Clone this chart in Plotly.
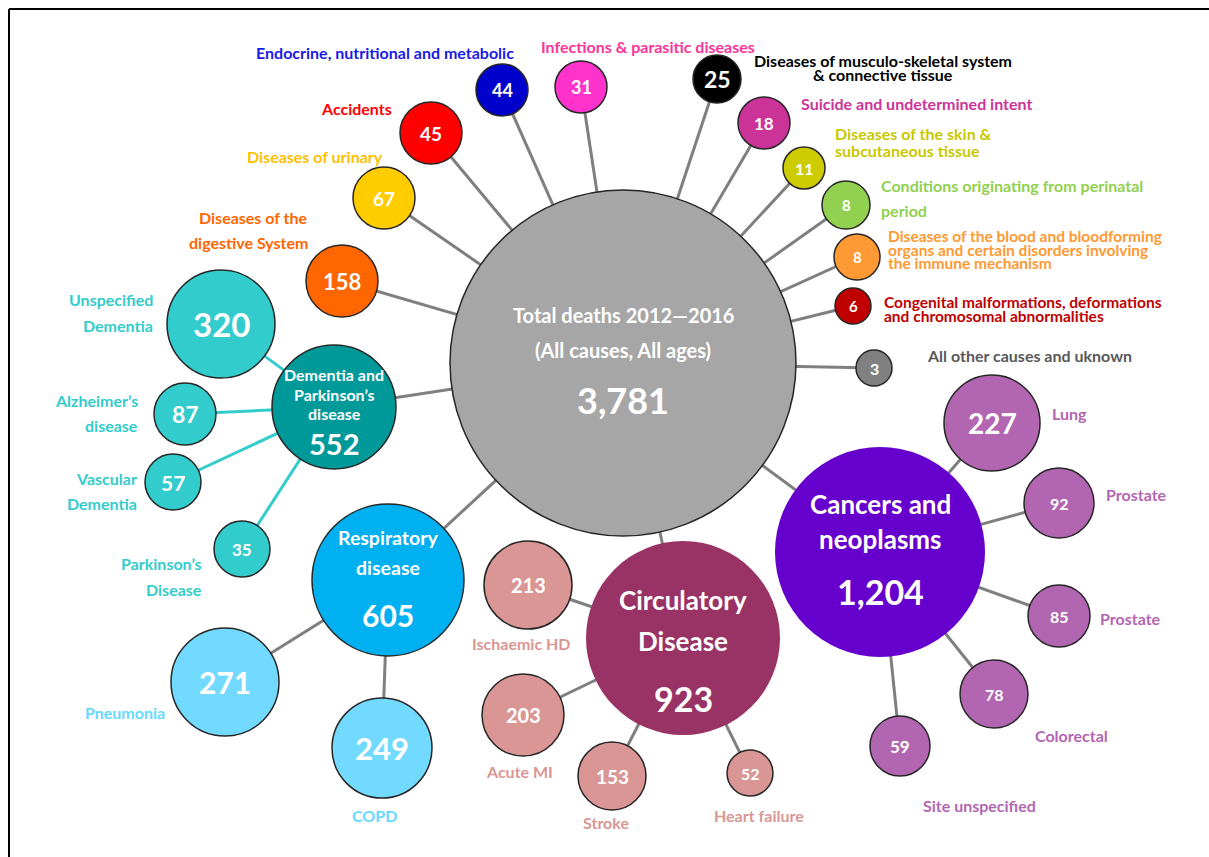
import plotly.graph_objects as go

# ---- data -------------------------------------------------------------
names = [
    "Total deaths 2012—2016<br>(All causes, All ages)",
    "Endocrine, nutritional and metabolic",
    "Infections & parasitic diseases",
    "Diseases of musculo-skeletal system<br>& connective tissue",
    "Suicide and undetermined intent",
    "Diseases of the skin &<br>subcutaneous tissue",
    "Conditions originating from perinatal<br>period",
    "Diseases of the blood and bloodforming<br>organs and certain disorders involving<br>the immune mechanism",
    "Congenital malformations, deformations<br>and chromosomal abnormalities",
    "All other causes and uknown",
    "Accidents",
    "Diseases of urinary",
    "Diseases of the<br>digestive System",
    "Dementia and<br>Parkinson’s<br>disease",
    "Unspecified<br>Dementia",
    "Alzheimer’s<br>disease",
    "Vascular<br>Dementia",
    "Parkinson’s<br>Disease",
    "Respiratory<br>disease",
    "Pneumonia",
    "COPD",
    "Circulatory<br>Disease",
    "Ischaemic HD",
    "Acute MI",
    "Stroke",
    "Heart failure",
    "Cancers and<br>neoplasms",
    "Lung",
    "Prostate",
    "Prostate",
    "Colorectal",
    "Site unspecified",
]
deaths = [3781, 44, 31, 25, 18, 11, 8, 8, 6, 3, 45, 67, 158,
          552, 320, 87, 57, 35,
          605, 271, 249,
          923, 213, 203, 153, 52,
          1204, 227, 92, 85, 78, 59]
parent = [None, 0, 0, 0, 0, 0, 0, 0, 0, 0, 0, 0, 0,
          0, 13, 13, 13, 13,
          0, 18, 18,
          0, 21, 21, 21, 21,
          0, 26, 26, 26, 26, 26]

# ---- layout of the bubbles (pixel space) ------------------------------
cx = [623, 502, 581, 717, 764, 804, 846, 857, 853, 874, 431, 384, 342,
      334, 221, 185, 173, 242,
      388, 225, 382,
      683, 528, 523, 612, 750,
      880, 992, 1059, 1059, 994, 900]
cy = [363, 90, 87, 79, 123, 168, 205, 257, 306, 368, 133, 198, 281,
      407, 324, 414, 482, 549,
      580, 682, 748,
      638, 585, 715, 776, 773,
      552, 423, 503, 616, 694, 746]
rad = [173, 26, 26, 24, 26, 21, 24, 23, 18, 18, 31, 31, 36,
       62, 54, 31, 28, 28,
       76, 54, 50,
       97, 44, 41, 34, 23,
       105, 48, 35, 31, 34, 30]

TEAL, LBLUE, ROSE, MAUVE = "#33CCCC", "#73DAFF", "#D99694", "#B266B2"
fill = ["#A6A6A6", "#0000CC", "#FF33CC", "#000000", "#CC3399", "#CCCC00",
        "#92D050", "#FF9933", "#C00000", "#808080", "#FF0000", "#FFCC00",
        "#FF6600",
        "#009999", TEAL, TEAL, TEAL, TEAL,
        "#00B0F0", LBLUE, LBLUE,
        "#993366", ROSE, ROSE, ROSE, ROSE,
        "#6600CC", MAUVE, MAUVE, MAUVE, MAUVE, MAUVE]
label_col = [None, "#1A1AE6", "#FF3399", "#000000", "#CC3399", "#C8C800",
             "#92D050", "#FF9933", "#C00000", "#595959", "#FF0000", "#FFC000",
             "#FF6600",
             None, TEAL, TEAL, TEAL, TEAL,
             None, "#66D9FF", "#66D9FF",
             None, ROSE, ROSE, ROSE, ROSE,
             None, MAUVE, MAUVE, MAUVE, MAUVE, MAUVE]
border = [0 if i in (21, 26) else 1.5 for i in range(len(names))]
num_size = [36, 18, 18, 23, 17, 16, 15, 15, 15, 16, 19, 19, 22,
            29, 33, 23, 21, 17,
            30, 30, 31,
            34, 20, 20, 19, 16,
            34, 28, 16, 16, 16, 17]

# outside labels: node -> (x, first line y, anchor, line step, font size)
label_pos = {
    1: (385, 52, "center", 0, 16), 2: (648, 46, "center", 0, 16),
    3: (883, 60, "center", 14, 16), 4: (916, 103, "center", 0, 16),
    5: (833, 133, "left", 17, 16), 6: (879, 185, "left", 25, 16),
    7: (886, 236, "left", 13.5, 15.5), 8: (882, 302, "left", 13.5, 15.5),
    9: (925, 355, "left", 0, 16), 10: (356, 108, "center", 0, 16),
    11: (315, 156, "center", 0, 16), 12: (310, 217, "right", 25, 16),
    14: (155, 299, "right", 26, 16), 15: (140, 400, "right", 25, 16),
    16: (139, 478, "right", 25, 16), 17: (204, 563, "right", 26, 16),
    19: (167, 712, "right", 0, 16), 20: (374, 815, "center", 0, 16),
    22: (521, 643, "center", 0, 16), 23: (519, 771, "center", 0, 16),
    24: (606, 822, "center", 0, 16), 25: (759, 815, "center", 0, 16),
    27: (1050, 413, "left", 0, 16), 28: (1104, 494, "left", 0, 16),
    29: (1098, 618, "left", 0, 16), 30: (1033, 735, "left", 0, 16),
    31: (921, 805, "left", 0, 16),
}
# text inside the hub bubbles: node -> (line ys, line size, value y)
hub_text = {
    0: ([315, 350], 20, 400),
    13: ([374, 394, 413], 16, 443),
    18: ([537, 567], 19.5, 615),
    21: ([600, 641], 26, 698),
    26: ([504, 539], 26, 591),
}

FONT = "Lato, 'Open Sans', sans-serif"
W, H = 1209, 857

fig = go.Figure()

# connectors
for i, p in enumerate(parent):
    if p is None:
        continue
    col = TEAL if p == 13 else "#7F7F7F"
    fig.add_trace(go.Scatter(
        x=[cx[i], cx[p]], y=[cy[i], cy[p]], mode="lines",
        line=dict(color=col, width=3), hoverinfo="skip", showlegend=False))

# bubbles
fig.add_trace(go.Scatter(
    x=cx, y=cy, mode="markers",
    marker=dict(size=[2 * r for r in rad], color=fill, opacity=1,
                line=dict(color="#262626", width=border)),
    text=[n.replace("<br>", " ") for n in names], customdata=deaths,
    hovertemplate="%{text}: %{customdata:,}<extra></extra>",
    showlegend=False))

ann = []


def txt(x, y, s, size, color, anchor="center"):
    ann.append(dict(x=x, y=y, xref="x", yref="y", text="<b>" + s + "</b>",
                    showarrow=False, xanchor=anchor, yanchor="middle",
                    font=dict(family=FONT, size=size, color=color)))


for i, v in enumerate(deaths):
    if i in hub_text:
        ys, sz, vy = hub_text[i]
        for line, y in zip(names[i].split("<br>"), ys):
            txt(cx[i], y, line, sz, "white")
        txt(cx[i], vy, f"{v:,}", num_size[i], "white")
    else:
        txt(cx[i], cy[i], f"{v:,}", num_size[i], "white")

for i, (x, y, anchor, step, sz) in label_pos.items():
    for k, line in enumerate(names[i].split("<br>")):
        txt(x, y + k * step, line, sz, label_col[i], anchor)

fig.update_layout(
    width=W, height=H, margin=dict(l=0, r=0, t=0, b=0),
    paper_bgcolor="white", plot_bgcolor="white",
    xaxis=dict(range=[0, W], visible=False, fixedrange=True),
    yaxis=dict(range=[H, 0], visible=False, fixedrange=True),
    annotations=ann,
    shapes=[
        dict(type="line", xref="x", yref="y", x0=9, y0=9, x1=W, y1=9,
             line=dict(color="black", width=2)),
        dict(type="line", xref="x", yref="y", x0=9, y0=9, x1=9, y1=H,
             line=dict(color="black", width=2)),
    ],
)

fig.write_html("out.html", config={"displayModeBar": False},
               post_script="document.body.style.margin='0';")
